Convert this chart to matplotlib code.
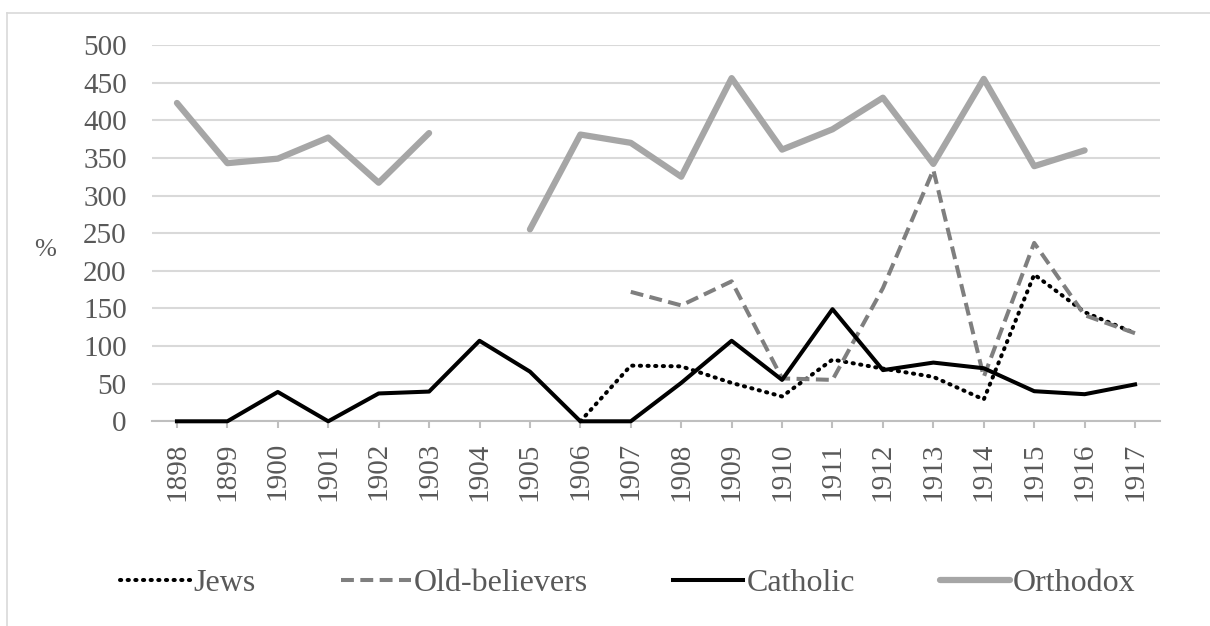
import numpy as np
import matplotlib.pyplot as plt
from matplotlib.lines import Line2D

nan = np.nan

years = [str(y) for y in range(1898, 1918)]

jews = [nan, nan, nan, nan, nan, nan, nan, nan, 0, 74,
        73, 51, 33, 82, 70, 59, 29, 195, 145, 117]
old_believers = [nan, nan, nan, nan, nan, nan, nan, nan, nan, 172,
                 154, 186, 57, 55, 177, 334, 59, 237, 141, 117]
catholic = [0, 0, 39, 0, 37, 39.5, 107, 66, 0, 0,
            51, 107, 55, 149, 68, 78, 70.5, 40, 36, 49]
orthodox = [423, 343, 349, 377, 317, 383, nan, 255, 381, 370,
            325, 456, 361, 388, 430, 342, 455, 339, 360, nan]

plt.rcParams['font.family'] = ['Liberation Serif', 'DejaVu Serif']
text_color = '#595959'

fig = plt.figure(figsize=(12.1, 6.26), dpi=100)
ax = fig.add_axes([0.1254, 0.327, 0.8335, 0.6011])

x = np.arange(len(years))
ax.plot(x, jews, color='black', lw=2.9, linestyle=(0, (0.3, 1.6)),
        dash_capstyle='round', zorder=3, clip_on=False, label='Jews')
ax.plot(x, old_believers, color='#7f7f7f', lw=2.9, linestyle=(0, (3.2, 1.6)),
        zorder=3, clip_on=False, label='Old-believers')
ax.plot(x, catholic, color='black', lw=2.9, zorder=3, clip_on=False,
        label='Catholic')
ax.plot(x, orthodox, color='#a6a6a6', lw=4.5, solid_capstyle='round',
        zorder=3, clip_on=False, label='Orthodox')

ax.set_xlim(-0.5, len(years) - 0.5)
ax.set_ylim(0, 500)
ax.set_yticks(range(0, 501, 50))
ax.set_xticks(x)
ax.set_xticklabels(years, rotation=90)
ax.grid(axis='y', color='#d9d9d9', lw=1.5)
ax.set_axisbelow(True)
for side in ['top', 'right', 'left']:
    ax.spines[side].set_visible(False)
ax.spines['bottom'].set_color('#bfbfbf')
ax.spines['bottom'].set_linewidth(1.5)
ax.tick_params(axis='y', length=0, pad=18, labelsize=21, labelcolor=text_color)
ax.tick_params(axis='x', length=5, width=1.5, color='#bfbfbf', pad=10,
               labelsize=21, labelcolor=text_color)

fig.text(45 / 1210, 1 - 250 / 626, '%', fontsize=19, color=text_color,
         ha='center', va='center')

leg = fig.legend(loc='center', bbox_to_anchor=(628 / 1210, 1 - 583 / 626),
                 ncol=4, frameon=False, fontsize=23, handlelength=2.2,
                 handletextpad=0.1, columnspacing=2.65)
for t in leg.get_texts():
    t.set_color(text_color)

# outer chart frame (only top and left edges fall inside the image)
fig.add_artist(Line2D([7.3 / 1210, 7.3 / 1210], [0, 1 - 12.7 / 626],
                      color='#d9d9d9', lw=1.2))
fig.add_artist(Line2D([7.3 / 1210, 1], [1 - 12.7 / 626, 1 - 12.7 / 626],
                      color='#d9d9d9', lw=1.2))

fig.savefig('out.png', dpi=100)
